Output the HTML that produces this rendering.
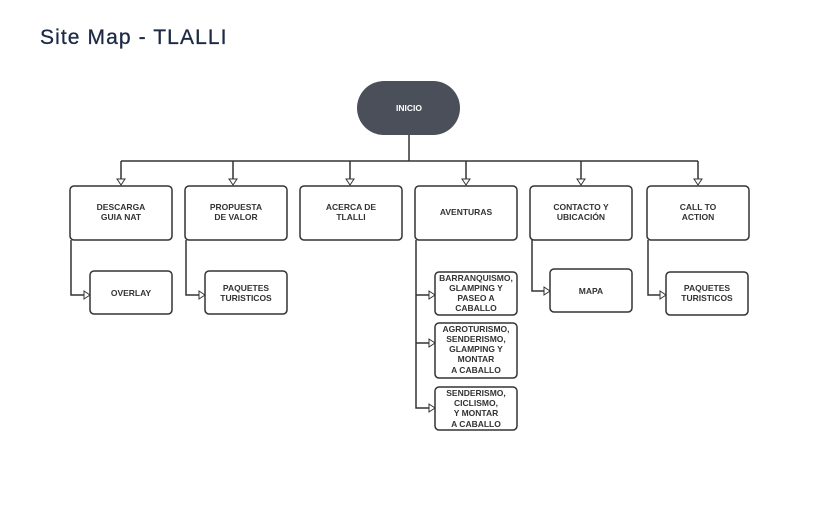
<!DOCTYPE html>
<html><head><meta charset="utf-8"><style>
html,body{margin:0;padding:0;background:#fff;width:820px;height:513px;overflow:hidden}
svg{display:block}
.t{font-family:"Liberation Sans Narrow","Liberation Sans",sans-serif;font-weight:bold;font-size:8.5px;fill:#333;text-anchor:middle}
.b{fill:#fff;stroke:#333;stroke-width:1.5}
.l{stroke:#333;stroke-width:1.5;fill:none}
.a{fill:#fff;stroke:#333;stroke-width:1}
</style></head><body>
<svg width="820" height="513" viewBox="0 0 820 513">
<text x="40" y="44" font-family="Liberation Sans, sans-serif" font-size="21" letter-spacing="1.1" fill="#1c2a44" stroke="#1c2a44" stroke-width="0.3">Site Map - TLALLI</text>
<rect x="357" y="81" width="103" height="54" rx="27" fill="#4a4f59"/>
<text x="409" y="111" class="t" style="fill:#fff">INICIO</text>
<path class="l" d="M409 135V161M121 161H698M121 161V180M233 161V180M350 161V180M466 161V180M581 161V180M698 161V180"/>
<g class="a">
<path d="M117 179h8l-4 6z"/><path d="M229 179h8l-4 6z"/><path d="M346 179h8l-4 6z"/><path d="M462 179h8l-4 6z"/><path d="M577 179h8l-4 6z"/><path d="M694 179h8l-4 6z"/>
</g>
<rect class="b" x="70" y="186" width="102" height="54" rx="4"/>
<rect class="b" x="185" y="186" width="102" height="54" rx="4"/>
<rect class="b" x="300" y="186" width="102" height="54" rx="4"/>
<rect class="b" x="415" y="186" width="102" height="54" rx="4"/>
<rect class="b" x="530" y="186" width="102" height="54" rx="4"/>
<rect class="b" x="647" y="186" width="102" height="54" rx="4"/>
<text class="t" x="121" y="210">DESCARGA</text><text class="t" x="121" y="220">GUIA NAT</text>
<text class="t" x="236" y="210">PROPUESTA</text><text class="t" x="236" y="220">DE VALOR</text>
<text class="t" x="351" y="210">ACERCA DE</text><text class="t" x="351" y="220">TLALLI</text>
<text class="t" x="466" y="215">AVENTURAS</text>
<text class="t" x="581" y="210">CONTACTO Y</text><text class="t" x="581" y="220">UBICACIÓN</text>
<text class="t" x="698" y="210">CALL TO</text><text class="t" x="698" y="220">ACTION</text>
<path class="l" d="M71 240V295H85M186 240V295H200M416 240V408H430M416 295H430M416 343H430M532 240V291H545M648 240V295H661"/>
<g class="a">
<path d="M84 291v8l6-4z"/><path d="M199 291v8l6-4z"/><path d="M429 291v8l6-4z"/><path d="M429 339v8l6-4z"/><path d="M429 404v8l6-4z"/><path d="M544 287v8l6-4z"/><path d="M660 291v8l6-4z"/>
</g>
<rect class="b" x="90" y="271" width="82" height="43" rx="4"/>
<rect class="b" x="205" y="271" width="82" height="43" rx="4"/>
<rect class="b" x="435" y="272" width="82" height="43" rx="4"/>
<rect class="b" x="435" y="323" width="82" height="55" rx="4"/>
<rect class="b" x="435" y="387" width="82" height="43" rx="4"/>
<rect class="b" x="550" y="269" width="82" height="43" rx="4"/>
<rect class="b" x="666" y="272" width="82" height="43" rx="4"/>
<text class="t" x="131" y="296">OVERLAY</text>
<text class="t" x="246" y="291">PAQUETES</text><text class="t" x="246" y="301">TURISTICOS</text>
<text class="t" x="476" y="281">BARRANQUISMO,</text><text class="t" x="476" y="291">GLAMPING Y</text><text class="t" x="476" y="301">PASEO A</text><text class="t" x="476" y="311">CABALLO</text>
<text class="t" x="476" y="332">AGROTURISMO,</text><text class="t" x="476" y="342">SENDERISMO,</text><text class="t" x="476" y="352">GLAMPING Y</text><text class="t" x="476" y="362">MONTAR</text><text class="t" x="476" y="373">A CABALLO</text>
<text class="t" x="476" y="396">SENDERISMO,</text><text class="t" x="476" y="406">CICLISMO,</text><text class="t" x="476" y="416">Y MONTAR</text><text class="t" x="476" y="427">A CABALLO</text>
<text class="t" x="591" y="294">MAPA</text>
<text class="t" x="707" y="291">PAQUETES</text><text class="t" x="707" y="301">TURISTICOS</text>
</svg>
</body></html>
